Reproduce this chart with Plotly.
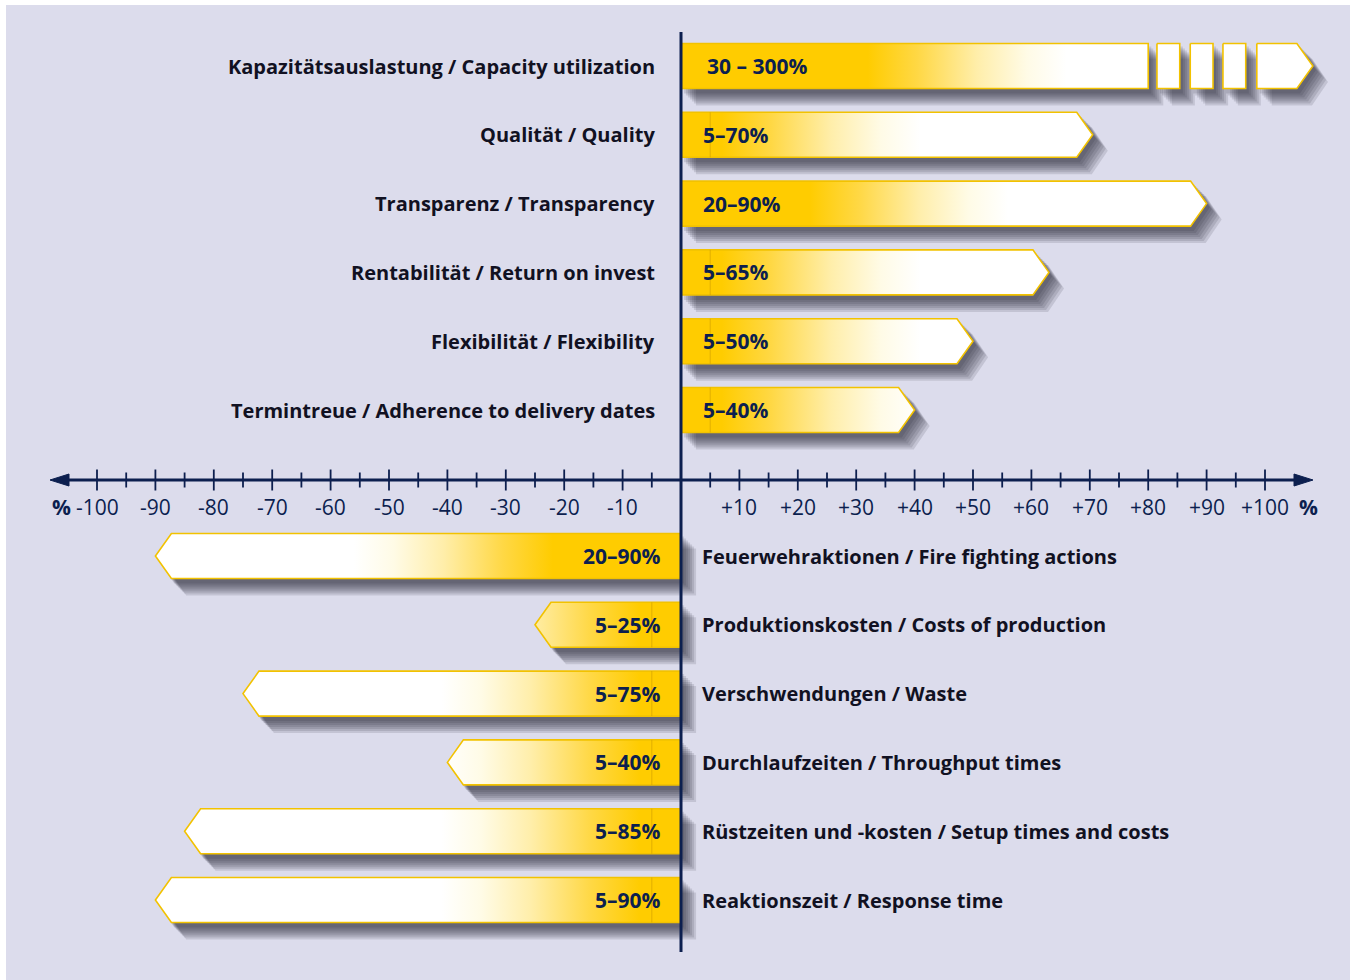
import plotly.graph_objects as go

# ---------------- data ----------------
top_labels = [
    "Kapazitätsauslastung / Capacity utilization",
    "Qualität / Quality",
    "Transparenz / Transparency",
    "Rentabilität / Return on invest",
    "Flexibilität / Flexibility",
    "Termintreue / Adherence to delivery dates",
]
top_texts = ["30 – 300%", "5–70%", "20–90%", "5–65%", "5–50%", "5–40%"]
top_low = [30, 5, 20, 5, 5, 5]
top_len = [80, 70.5, 90, 63, 50, 40]          # drawn length of each bar (tip)
cap_breaks = [[81.5, 85.4], [87.2, 91.1], [92.8, 96.7], [98.6, 108.2]]  # broken tail of first bar

bottom_labels = [
    "Feuerwehraktionen / Fire fighting actions",
    "Produktionskosten / Costs of production",
    "Verschwendungen / Waste",
    "Durchlaufzeiten / Throughput times",
    "Rüstzeiten und -kosten / Setup times and costs",
    "Reaktionszeit / Response time",
]
bottom_texts = ["20–90%", "5–25%", "5–75%", "5–40%", "5–85%", "5–90%"]
bottom_low = [20, 5, 5, 5, 5, 5]
bottom_len = [-90, -25, -75, -40, -85, -90]

major_ticks = [v for v in range(-100, 101, 10) if v != 0]
minor_ticks = [v for v in range(-95, 100, 10)]
tick_labels = [("+%d" % v) if v > 0 else ("%d" % v) for v in major_ticks]

# ---------------- geometry helpers ----------------
PXX = 5.84      # px per x unit
PXY = 68.8      # px per row
X0PX = 681
Y0PX = 66
xr = [-X0PX / PXX, (1350 - X0PX) / PXX]
yr = [(980 - Y0PX) / PXY, -Y0PX / PXY]

NAVY = "#0c1f4f"
YEL = "#ffcc00"
BORDER = "#f2c200"
BG = "#dcdcec"

H = 22.5 / PXY
TIP = 16 / PXX
top_y = [i for i in range(6)]
axis_y = (480 - Y0PX) / PXY
bottom_y = [(556 - Y0PX) / PXY + j for j in range(6)]


def poly(start, end, y, tip=True, dx=0.0, dy=0.0, grow=0.0):
    s = 1 if end >= start else -1
    t = TIP if tip else 0
    h = H + grow
    st = start - s * grow
    en = end + s * grow
    xs = [st, en - s * t, en, en - s * t, st, st]
    ys = [y - h, y - h, y, y + h, y + h, y - h]
    return [x + dx for x in xs], [v + dy for v in ys]


fig = go.Figure()

shapes_list = []  # (start, end, y, tip)
for i in range(6):
    if i == 0:
        shapes_list.append((0, top_len[0], top_y[0], False))
        for k, (a, b) in enumerate(cap_breaks):
            shapes_list.append((a, b, top_y[0], k == len(cap_breaks) - 1))
    else:
        shapes_list.append((0, top_len[i], top_y[i], True))
for j in range(6):
    shapes_list.append((0, bottom_len[j], bottom_y[j], True))

# shadow layers (soft drop shadow)
for k, (ox, oy) in enumerate([(3, 4), (5, 6), (7, 8), (9, 10), (11, 12), (13, 14), (15, 16)]):
    xs_all, ys_all = [], []
    for (a, b, y, tp) in shapes_list:
        xs, ys = poly(a, b, y, tp, dx=ox / PXX, dy=oy / PXY, grow=1.0 / PXY)
        xs_all += xs + [None]
        ys_all += ys + [None]
    fig.add_trace(go.Scatter(x=xs_all, y=ys_all, mode="lines", fill="toself",
                             fillcolor="rgba(30,30,45,0.13)", line=dict(width=0),
                             hoverinfo="skip", showlegend=False))

GRAD_POS = [[0, YEL], [0.25, "#ffd845"], [0.55, "#ffeeaa"], [0.8, "#fffbe6"], [1, "#ffffff"]]
GRAD_NEG = [[1 - p, c] for p, c in GRAD_POS][::-1]


def add_bar(start, end, y, tip, low=None, white=False):
    xs, ys = poly(start, end, y, tip)
    kw = {}
    if white:
        kw["fillcolor"] = "#ffffff"
    else:
        if end > 0:
            kw["fillgradient"] = dict(type="horizontal", colorscale=GRAD_POS,
                                      start=low + 2, stop=low + 36)
        else:
            kw["fillgradient"] = dict(type="horizontal", colorscale=GRAD_NEG,
                                      start=-(low + 36), stop=-(low + 2))
    fig.add_trace(go.Scatter(x=xs, y=ys, mode="lines", fill="toself",
                             line=dict(color=BORDER, width=1.6),
                             hoverinfo="skip", showlegend=False, **kw))
    if low == 5:
        sx = 5 if end > 0 else -5
        fig.add_trace(go.Scatter(x=[sx, sx], y=[y - H, y + H], mode="lines",
                                 line=dict(color="rgba(190,140,0,0.45)", width=1),
                                 hoverinfo="skip", showlegend=False))


for i in range(6):
    if i == 0:
        add_bar(0, top_len[0], top_y[0], False, low=top_low[0])
        for k, (a, b) in enumerate(cap_breaks):
            add_bar(a, b, top_y[0], k == len(cap_breaks) - 1, white=True)
    else:
        add_bar(0, top_len[i], top_y[i], True, low=top_low[i])
for j in range(6):
    add_bar(0, bottom_len[j], bottom_y[j], True, low=bottom_low[j])

# ticks
tx, ty = [], []
for v in major_ticks:
    tx += [v, v, None]
    ty += [axis_y - 10.5 / PXY, axis_y + 10.5 / PXY, None]
fig.add_trace(go.Scatter(x=tx, y=ty, mode="lines", line=dict(color=NAVY, width=1.8),
                         hoverinfo="skip", showlegend=False))
tx, ty = [], []
for v in minor_ticks:
    tx += [v, v, None]
    ty += [axis_y - 7.5 / PXY, axis_y + 7.5 / PXY, None]
fig.add_trace(go.Scatter(x=tx, y=ty, mode="lines", line=dict(color=NAVY, width=1.8),
                         hoverinfo="skip", showlegend=False))

# axis line + arrowheads
xl, xrgt = (50 - X0PX) / PXX, (1313 - X0PX) / PXX
fig.add_trace(go.Scatter(x=[xl + 10 / PXX, xrgt - 10 / PXX], y=[axis_y, axis_y], mode="lines",
                         line=dict(color=NAVY, width=3), hoverinfo="skip", showlegend=False))
ah = 6 / PXY
al = 19 / PXX
fig.add_trace(go.Scatter(
    x=[xl, xl + al, xl + al, xl, None, xrgt, xrgt - al, xrgt - al, xrgt],
    y=[axis_y, axis_y - ah, axis_y + ah, axis_y, None, axis_y, axis_y - ah, axis_y + ah, axis_y],
    mode="lines", fill="toself", fillcolor=NAVY, line=dict(color=NAVY, width=1),
    hoverinfo="skip", showlegend=False))

# vertical zero line
fig.add_trace(go.Scatter(x=[0, 0], y=[(32 - Y0PX) / PXY, (952 - Y0PX) / PXY], mode="lines",
                         line=dict(color=NAVY, width=3), hoverinfo="skip", showlegend=False))

FONT = "Open Sans"
LBL = 20
VAL = 21
TCK = 21
ann = []
for i in range(6):
    ann.append(dict(x=-24 / PXX, y=top_y[i], text="<b>%s</b>" % top_labels[i], xanchor="right",
                    yanchor="middle", showarrow=False, font=dict(family=FONT, size=LBL, color="#111122")))
    ann.append(dict(x=(24 if i == 0 else 20) / PXX, y=top_y[i], text="<b>%s</b>" % top_texts[i],
                    xanchor="left", yanchor="middle", showarrow=False,
                    font=dict(family=FONT, size=VAL, color=NAVY)))
for j in range(6):
    ann.append(dict(x=19 / PXX, y=bottom_y[j], text="<b>%s</b>" % bottom_labels[j], xanchor="left",
                    yanchor="middle", showarrow=False, font=dict(family=FONT, size=LBL, color="#111122")))
    ann.append(dict(x=-18 / PXX, y=bottom_y[j], text="<b>%s</b>" % bottom_texts[j],
                    xanchor="right", yanchor="middle", showarrow=False,
                    font=dict(family=FONT, size=VAL, color=NAVY)))
lab_y = (507 - Y0PX) / PXY
for v, t in zip(major_ticks, tick_labels):
    ann.append(dict(x=v, y=lab_y, text=t, xanchor="center", yanchor="middle", showarrow=False,
                    font=dict(family=FONT, size=TCK, color=NAVY)))
ann.append(dict(x=(61 - X0PX) / PXX, y=lab_y, text="<b>%</b>", xanchor="center", yanchor="middle",
                showarrow=False, font=dict(family=FONT, size=TCK, color=NAVY)))
ann.append(dict(x=(1308 - X0PX) / PXX, y=lab_y, text="<b>%</b>", xanchor="center", yanchor="middle",
                showarrow=False, font=dict(family=FONT, size=TCK, color=NAVY)))

fig.update_layout(
    width=1350, height=980,
    margin=dict(l=0, r=0, t=0, b=0),
    paper_bgcolor="white", plot_bgcolor=BG,
    xaxis=dict(range=xr, visible=False, fixedrange=True),
    yaxis=dict(range=yr, visible=False, fixedrange=True),
    annotations=ann,
    shapes=[dict(type="rect", xref="paper", yref="paper", x0=0, x1=6 / 1350, y0=0, y1=1,
                 fillcolor="white", line=dict(width=0), layer="above"),
            dict(type="rect", xref="paper", yref="paper", x0=0, x1=1, y0=1 - 5 / 980, y1=1,
                 fillcolor="white", line=dict(width=0), layer="above")],
    showlegend=False,
)

fig.write_html("out.html", config={"displayModeBar": False},
               post_script="document.body.style.margin='0';")
